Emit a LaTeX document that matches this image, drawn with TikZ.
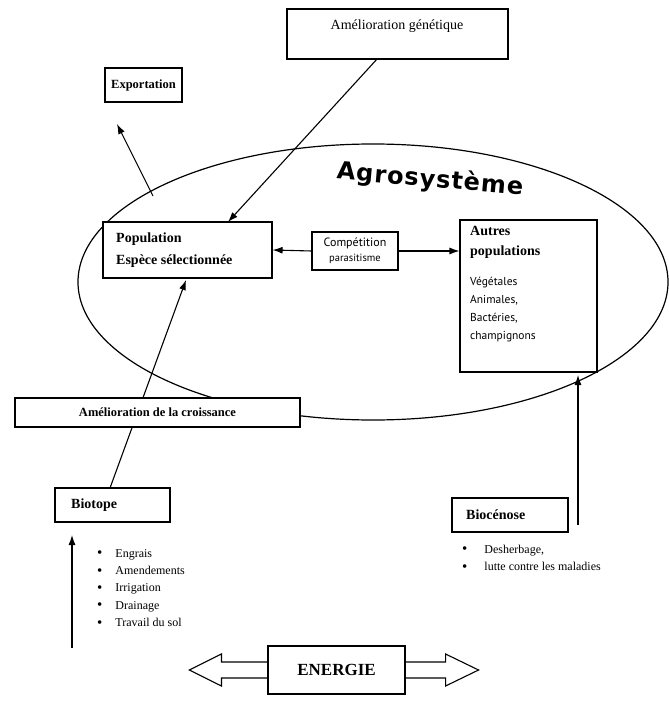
\documentclass[tikz,border=0pt]{standalone}
\usepackage{fontspec}
\setmainfont{Liberation Serif}
\newfontfamily\artfont[LetterSpace=4]{DejaVu Sans}
\newfontfamily\humanist{PT Sans}
\usetikzlibrary{calc,shapes.geometric,arrows.meta}

\begin{document}
\begin{tikzpicture}[x=1pt,y=-1pt,
  box/.style={draw, line width=1.1pt, fill=white, inner sep=0pt},
  conn/.style={line width=1.1pt, -{Latex[length=10pt,width=7pt]}},
  heading/.style={font=\bfseries\fontsize{14}{22}\selectfont, inner sep=0pt, align=left},
  plain/.style={font=\fontsize{13}{17}\selectfont, inner sep=0pt, align=left},
  small/.style={font=\humanist\fontsize{11.5}{18}\selectfont, inner sep=0pt, align=left},
  bullets/.style={font=\fontsize{12}{17.3}\selectfont, inner sep=0pt, align=left},
]
\newcommand{\dotmark}{\raisebox{-0.5pt}{\fontsize{15}{15}\selectfont\textbullet}}
\useasboundingbox (0,0) rectangle (668,708);

% the agrosystem
\node[draw, ellipse, line width=1.2pt, minimum width=590, minimum height=276, inner sep=0pt] (agro) at (373,282) {};
\node[font=\artfont\bfseries\fontsize{24}{24}\selectfont, rotate=-5, inner sep=0pt] (agrotitle) at (430,180) {Agrosystème};

% anchors of the free arrow ends
\coordinate (exptail) at (153,196);
\coordinate (exphead) at (117,124);
\coordinate (biotail) at (110,488);
\coordinate (soltail) at (72,648);
\coordinate (soltip) at (72,535);
\coordinate (ceno) at (578,525);

% connectors drawn first so that the white boxes sit on top
\draw[conn] (378,58) -- (228,222);
\draw[conn] (exptail) -- (exphead);
\draw[conn] (biotail) -- (186,280);
\draw[conn] (soltail) -- (soltip);
\draw[conn] (ceno) -- (578,375);

% boxes
\node[box, minimum width=221, minimum height=50] (gen) at (397.5,34) {};
\node[plain, font=\fontsize{14}{17}\selectfont] (gentxt) at (397,26) {Amélioration génétique};

\node[box, minimum width=77, minimum height=34, font=\bfseries\fontsize{12.5}{15}\selectfont] (exp) at (143.5,85) {Exportation};

\node[box, minimum width=169, minimum height=56] (pop) at (187.5,250) {};
\node[heading, anchor=west] (poptxt) at (116,250) {Population\\Espèce sélectionnée};

\node[box, minimum width=86, minimum height=38] (comp) at (355,251) {};
\node[font=\humanist\fontsize{12}{14}\selectfont, inner sep=0pt] (comptxt) at (355,243) {Compétition};
\node[font=\humanist\fontsize{10.5}{12}\selectfont, inner sep=0pt] (paratxt) at (355,259) {parasitisme};

\node[box, minimum width=137, minimum height=152] (autres) at (528.5,296) {};
\node[heading, font=\bfseries\fontsize{14}{20}\selectfont, anchor=north west] (autrestxt) at (470,226) {Autres\\populations};
\node[small, anchor=north west] (listtxt) at (470,277) {Végétales\\Animales,\\Bactéries,\\champignons};

\draw[conn] (comp.west) -- (pop.east);
\draw[conn] (comp.east) -- (comp.east -| autres.west);

\node[box, minimum width=285, minimum height=29, font=\bfseries\fontsize{12.5}{15}\selectfont] (croiss) at (157.5,412.5) {Amélioration de la croissance};

\node[box, minimum width=115, minimum height=34] (biotope) at (112.5,505) {};
\node[heading, anchor=west] (biotxt) at (71,505) {Biotope};

\node[box, minimum width=116, minimum height=34] (biocen) at (510,515) {};
\node[heading, anchor=west] (biocentxt) at (466,515) {Biocénose};

% practices
\node[bullets, anchor=north west] (biolist) at (97,545) {%
  \begin{tabular}{@{}l@{\hspace{13pt}}l@{}}
  \dotmark & Engrais\\
  \dotmark & Amendements\\
  \dotmark & Irrigation\\
  \dotmark & Drainage\\
  \dotmark & Travail du sol
  \end{tabular}};
\node[bullets, anchor=north west] (cenolist) at (462,541) {%
  \begin{tabular}{@{}l@{\hspace{17pt}}l@{}}
  \dotmark & Desherbage,\\
  \dotmark & lutte contre les maladies
  \end{tabular}};

% energy
\node[box, minimum width=137, minimum height=48, font=\bfseries\fontsize{17}{20}\selectfont] (energie) at (336.5,670) {ENERGIE};
\draw[line width=1.1pt, line join=miter]
  ($(energie.west)+(0,-8)$) -- ++(-46,0) -- ++(0,-8) -- ($(energie.west)+(-78,0)$)
  -- ($(energie.west)+(-46,16)$) -- ++(0,-8) -- ($(energie.west)+(0,8)$);
\draw[line width=1.1pt, line join=miter]
  ($(energie.east)+(0,-8)$) -- ++(40,0) -- ++(0,-8) -- ($(energie.east)+(73,0)$)
  -- ($(energie.east)+(40,16)$) -- ++(0,-8) -- ($(energie.east)+(0,8)$);
\end{tikzpicture}
\end{document}
